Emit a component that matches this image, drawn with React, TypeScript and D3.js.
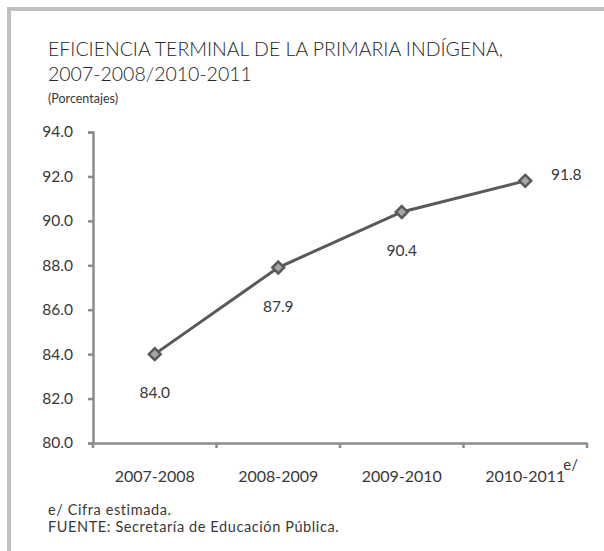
import { useEffect, useRef } from 'react';
import * as d3 from 'd3';

const categories = ['2007-2008', '2008-2009', '2009-2010', '2010-2011'];
const values = [84.0, 87.9, 90.4, 91.8];
const yTicks = [80, 82, 84, 86, 88, 90, 92, 94];

const WIDTH = 604;
const HEIGHT = 551;
const FONT = "Lato, 'Open Sans', sans-serif";
const TEXT = '#383838';

function App() {
  const svgRef = useRef<SVGSVGElement | null>(null);

  useEffect(() => {
    const svg = d3.select(svgRef.current);
    svg.selectAll('*').remove();

    svg.append('rect').attr('width', WIDTH).attr('height', HEIGHT).attr('fill', '#ffffff');

    // frame (left and top only visible)
    svg.append('path')
      .attr('d', `M9,${HEIGHT} L9,9 L${WIDTH},9`)
      .attr('fill', 'none')
      .attr('stroke', '#c0c0c0')
      .attr('stroke-width', 4);

    // titles
    svg.append('text')
      .attr('x', 48).attr('y', 56)
      .attr('font-family', FONT).attr('font-size', 19.5).attr('font-weight', 300)
      .attr('fill', '#262626')
      .text('EFICIENCIA TERMINAL DE LA PRIMARIA INDÍGENA,');
    svg.append('text')
      .attr('x', 48).attr('y', 81)
      .attr('font-family', FONT).attr('font-size', 19.5).attr('font-weight', 300)
      .attr('fill', '#262626')
      .text('2007-2008/2010-2011');
    svg.append('text')
      .attr('x', 48).attr('y', 103)
      .attr('font-family', FONT).attr('font-size', 12.5)
      .attr('fill', TEXT)
      .text('(Porcentajes)');

    const x = d3.scaleBand().domain(categories).range([93, 587]);
    const y = d3.scaleLinear().domain([80, 94]).range([443, 132]);

    const axisColor = '#8c8c8c';

    // y axis
    const yAxis = svg.append('g')
      .attr('transform', 'translate(93,0)')
      .call(d3.axisLeft(y).tickValues(yTicks).tickSize(5).tickPadding(15).tickFormat(d3.format('.1f')));
    yAxis.select('.domain').attr('stroke', axisColor).attr('stroke-width', 2.5);
    yAxis.selectAll('.tick line').attr('stroke', axisColor).attr('stroke-width', 2.5);
    yAxis.selectAll('.tick text')
      .attr('font-family', FONT).attr('font-size', 15.5).attr('fill', TEXT);

    // x axis
    const xAxis = svg.append('g')
      .attr('transform', 'translate(0,443)')
      .call(d3.axisBottom(x).tickSize(0).tickPadding(27.5));
    xAxis.select('.domain').attr('stroke', axisColor).attr('stroke-width', 2.5);
    xAxis.selectAll('.tick text')
      .attr('font-family', FONT).attr('font-size', 16).attr('fill', TEXT);

    // category boundary ticks
    const bounds = [...categories.map(c => x(c) as number), 587];
    svg.append('g').selectAll('line')
      .data(bounds)
      .enter()
      .append('line')
      .attr('x1', d => d).attr('x2', d => d)
      .attr('y1', 443).attr('y2', 448)
      .attr('stroke', axisColor).attr('stroke-width', 2.5);

    const cx = (c: string) => (x(c) as number) + x.bandwidth() / 2;

    // superscript on last category
    svg.append('text')
      .attr('x', cx(categories[3]) + 38)
      .attr('y', 470)
      .attr('font-family', FONT).attr('font-size', 15).attr('fill', TEXT)
      .text('e/');

    const line = d3.line<number>()
      .x((_, i) => cx(categories[i]))
      .y(d => y(d));

    svg.append('path')
      .datum(values)
      .attr('d', line)
      .attr('fill', 'none')
      .attr('stroke', '#595959')
      .attr('stroke-width', 3);

    const diamond = d3.symbol().type(d3.symbolDiamond2).size(90);
    svg.append('g').selectAll('path')
      .data(values)
      .enter()
      .append('path')
      .attr('d', diamond)
      .attr('transform', (d, i) => `translate(${cx(categories[i])},${y(d)})`)
      .attr('fill', '#a6a6a6')
      .attr('stroke', '#595959')
      .attr('stroke-width', 2.5);

    // data labels
    svg.append('g').selectAll('text')
      .data(values)
      .enter()
      .append('text')
      .attr('x', (d, i) => i === 3 ? cx(categories[i]) + 41 : cx(categories[i]))
      .attr('y', (d, i) => i === 3 ? y(d) - 1 : y(d) + 44)
      .attr('text-anchor', 'middle')
      .attr('font-family', FONT).attr('font-size', 15.5).attr('fill', TEXT)
      .text(d => d.toFixed(1));

    // footnotes
    svg.append('text')
      .attr('x', 48).attr('y', 515)
      .attr('font-family', FONT).attr('font-size', 14.5).attr('fill', TEXT)
      .attr('letter-spacing', 0.6)
      .text('e/ Cifra estimada.');
    svg.append('text')
      .attr('x', 48).attr('y', 532)
      .attr('font-family', FONT).attr('font-size', 14.5).attr('fill', TEXT)
      .attr('letter-spacing', 0.6)
      .text('FUENTE: Secretaría de Educación Pública.');
  }, []);

  return (
    <div style={{ position: 'fixed', left: 0, top: 0, width: WIDTH, height: HEIGHT }}>
      <svg ref={svgRef} width={WIDTH} height={HEIGHT} style={{ display: 'block' }}></svg>
    </div>
  );
}

export default App;
